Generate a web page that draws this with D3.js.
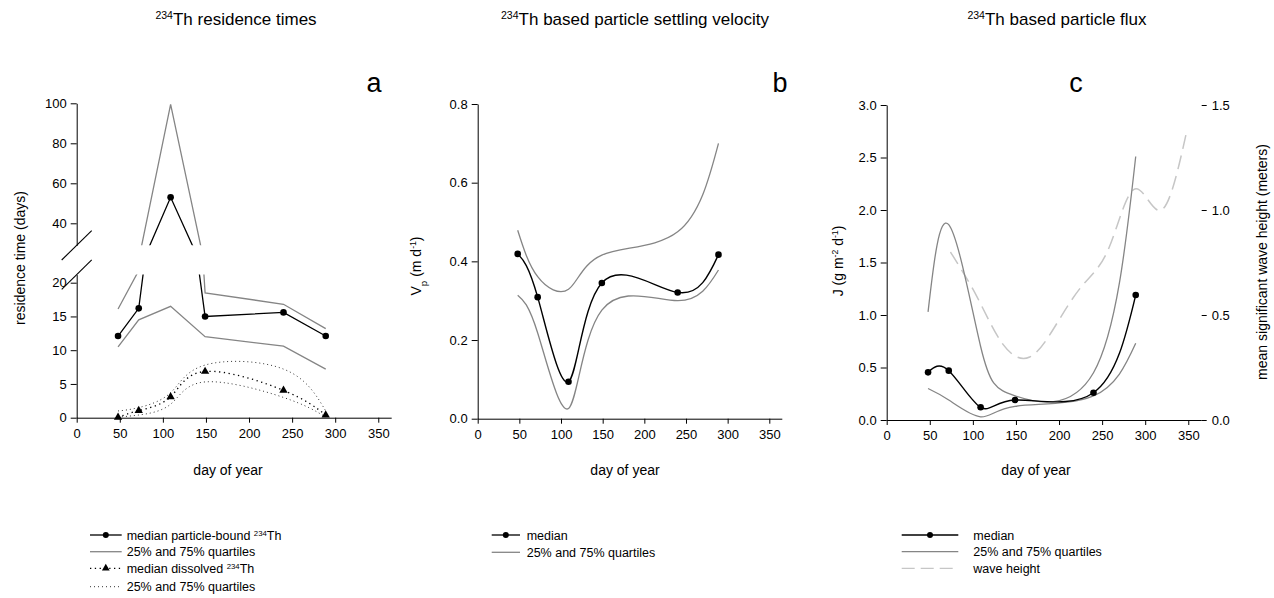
<!DOCTYPE html>
<html><head><meta charset="utf-8">
<script src="https://cdn.jsdelivr.net/npm/d3@7"></script>
<style>
body{margin:0;background:#fff;}
text{font-family:"Liberation Sans",Arial,Helvetica,sans-serif;fill:#000;}
</style></head>
<body>
<script>
// ---------- DATA ----------
const sampleDays = [48, 72, 109, 149, 240, 289];
// panel a: residence times (days)
const resParticleMedian = [12.1, 16.2, 53.0, 15.0, 15.6, 12.1];
const resParticleQ25 = [10.5, 14.5, 16.5, 12.0, 10.6, 7.2];
const resParticleQ75 = [16.1, 21.8, 99.5, 18.5, 16.8, 13.2];
const resDissolvedMedian = [0.05, 1.05, 3.1, 6.85, 4.05, 0.4];
const resDissolvedQ25 = [0.1, 0.4, 2.0, 5.3, 3.0, 0.1];
const resDissolvedQ75 = [1.0, 1.5, 3.7, 7.8, 7.2, 1.0];
// panel b: settling velocity (m/d)
const vpMedian = [0.419, 0.309, 0.094, 0.345, 0.321, 0.417];
const vpQ25 = [0.314, 0.218, 0.026, 0.276, 0.300, 0.378];
const vpQ75 = [0.479, 0.361, 0.329, 0.416, 0.475, 0.700];
// panel c: flux (g m-2 d-1)
const fluxMedian = [0.454, 0.470, 0.121, 0.190, 0.260, 1.190];
const fluxQ25 = [0.30, 0.19, 0.03, 0.13, 0.23, 0.73];
const fluxQ75 = [1.03, 1.86, 0.70, 0.23, 0.45, 2.51];
// wave height (m), monthly mid-points
const waveDays = [74, 105, 135, 166, 196, 227, 258, 288, 319, 349];
const waveHeight = [0.80, 0.585, 0.36, 0.30, 0.45, 0.64, 0.82, 1.10, 1.00, 1.39];
// ticks
const xTicks = [0, 50, 100, 150, 200, 250, 300, 350];
const aLowTicks = [0, 5, 10, 15, 20];
const aUpTicks = [40, 60, 80, 100];
const bTicks = [0.0, 0.2, 0.4, 0.6, 0.8];
const cTicks = [0.0, 0.5, 1.0, 1.5, 2.0, 2.5, 3.0];
const cRightTicks = [0.0, 0.5, 1.0, 1.5];

// ---------- SETUP ----------
const svg = d3.select("body").append("svg").attr("width", 1274).attr("height", 598);
const GRAY = "#858585", LIGHT = "#c6c6c6";
const pts = vals => sampleDays.map((d, i) => [d, vals[i]]);

function styleAxis(g) {
  g.selectAll("path.domain").attr("stroke", "#000").attr("stroke-width", 1);
  g.selectAll(".tick line").attr("stroke", "#000");
  g.selectAll(".tick text").attr("font-size", 13).attr("font-family", '"Liberation Sans",Arial,sans-serif');
}
function xAxis(x, y0) {
  const g = svg.append("g").attr("transform", `translate(0,${y0})`)
    .call(d3.axisBottom(x).tickValues(xTicks).tickSize(5).tickPadding(6).tickSizeOuter(0));
  styleAxis(g);
}
function supText(parent, x, y, parts, size, anchor) {
  const t = parent.append("text").attr("x", x).attr("y", y).attr("font-size", size).attr("text-anchor", anchor || "start");
  parts.forEach(p => {
    const s = t.append("tspan").text(p.t);
    if (p.sup) s.attr("font-size", size * 0.62).attr("baseline-shift", "super");
    if (p.sub) s.attr("font-size", size * 0.7).attr("baseline-shift", "sub");
  });
  return t;
}

// ---------- TITLES ----------
supText(svg, 236, 25, [{t: "234", sup: 1}, {t: "Th residence times"}], 17, "middle");
supText(svg, 635, 25, [{t: "234", sup: 1}, {t: "Th based particle settling velocity"}], 17, "middle");
supText(svg, 1057, 25, [{t: "234", sup: 1}, {t: "Th based particle flux"}], 17, "middle");
[["a", 374], ["b", 780], ["c", 1076]].forEach(([l, x]) =>
  svg.append("text").attr("x", x).attr("y", 92).attr("font-size", 27).attr("text-anchor", "middle").text(l));

// ---------- PANEL A ----------
const xA = d3.scaleLinear().domain([0, 365]).range([76.7, 391.2]);
const yLow = d3.scaleLinear().domain([0, 21.2]).range([417.7, 417.7 - 21.2 * 6.75]);
const yUp = d3.scaleLinear().domain([29, 100]).range([103.3 + 71 * 2, 103.3]);
const defs = svg.append("defs");
defs.append("clipPath").attr("id", "clipLow").append("rect")
  .attr("x", 70).attr("y", yLow(21.2)).attr("width", 340).attr("height", 160);
defs.append("clipPath").attr("id", "clipUp").append("rect")
  .attr("x", 70).attr("y", 90).attr("width", 340).attr("height", yUp(29) - 90);

xAxis(xA, 417.7);
const gLowAx = svg.append("g").attr("transform", `translate(${xA(0)},0)`)
  .call(d3.axisLeft(yLow).tickValues(aLowTicks).tickSize(6).tickPadding(4).tickSizeOuter(0));
styleAxis(gLowAx);
const gUpAx = svg.append("g").attr("transform", `translate(${xA(0)},0)`)
  .call(d3.axisLeft(yUp).tickValues(aUpTicks).tickSize(6).tickPadding(4).tickSizeOuter(0));
styleAxis(gUpAx);
// break marks
[yUp(29), yLow(21.2)].forEach(yb => {
  svg.append("line").attr("x1", xA(0) - 15).attr("y1", yb + 14.7).attr("x2", xA(0) + 15).attr("y2", yb - 14.7)
    .attr("stroke", "#000").attr("stroke-width", 1.1);
});

const secs = [{y: yLow, clip: "url(#clipLow)", inSec: v => v <= 21.2},
              {y: yUp, clip: "url(#clipUp)", inSec: v => v > 21.2}];
secs.forEach(s => {
  const g = svg.append("g").attr("clip-path", s.clip);
  const lin = d3.line().x(d => xA(d[0])).y(d => s.y(d[1]));
  [resParticleQ25, resParticleQ75].forEach(v =>
    g.append("path").attr("d", lin(pts(v))).attr("fill", "none").attr("stroke", GRAY).attr("stroke-width", 1.3));
  g.append("path").attr("d", lin(pts(resParticleMedian))).attr("fill", "none").attr("stroke", "#000").attr("stroke-width", 1.3);
  g.selectAll("circle").data(pts(resParticleMedian).filter(d => s.inSec(d[1]))).join("circle")
    .attr("cx", d => xA(d[0])).attr("cy", d => s.y(d[1])).attr("r", 3.3).attr("fill", "#000");
});
// dissolved
const natA = d3.line().x(d => xA(d[0])).y(d => yLow(d[1])).curve(d3.curveNatural);
[resDissolvedQ25, resDissolvedQ75].forEach(v =>
  svg.append("path").attr("d", natA(pts(v))).attr("fill", "none").attr("stroke", "#333")
    .attr("stroke-width", 1).attr("stroke-dasharray", "1,3"));
svg.append("path").attr("d", natA(pts(resDissolvedMedian))).attr("fill", "none").attr("stroke", "#000")
  .attr("stroke-width", 1.3).attr("stroke-dasharray", "1.3,3.5");
svg.append("g").selectAll("path").data(pts(resDissolvedMedian)).join("path")
  .attr("d", d3.symbol(d3.symbolTriangle, 30))
  .attr("transform", d => `translate(${xA(d[0])},${yLow(d[1])})`).attr("fill", "#000");

svg.append("text").attr("x", 228).attr("y", 475).attr("font-size", 14).attr("text-anchor", "middle").text("day of year");
svg.append("text").attr("transform", "translate(25,258) rotate(-90)").attr("font-size", 14)
  .attr("text-anchor", "middle").text("residence time (days)");

// ---------- PANEL B ----------
const xB = d3.scaleLinear().domain([0, 365]).range([477.7, 781.8]);
const yB = d3.scaleLinear().domain([0, 0.8]).range([418.7, 104]);
xAxis(xB, 418.7);
const gBy = svg.append("g").attr("transform", `translate(${xB(0)},0)`)
  .call(d3.axisLeft(yB).tickValues(bTicks).tickFormat(d3.format(".1f")).tickSize(6).tickPadding(4).tickSizeOuter(0));
styleAxis(gBy);
const natB = d3.line().x(d => xB(d[0])).y(d => yB(d[1])).curve(d3.curveNatural);
[vpQ25, vpQ75].forEach(v =>
  svg.append("path").attr("d", natB(pts(v))).attr("fill", "none").attr("stroke", GRAY).attr("stroke-width", 1.3));
svg.append("path").attr("d", natB(pts(vpMedian))).attr("fill", "none").attr("stroke", "#000").attr("stroke-width", 1.4);
svg.append("g").selectAll("circle").data(pts(vpMedian)).join("circle")
  .attr("cx", d => xB(d[0])).attr("cy", d => yB(d[1])).attr("r", 3.3).attr("fill", "#000");
svg.append("text").attr("x", 625).attr("y", 475).attr("font-size", 14).attr("text-anchor", "middle").text("day of year");
supText(svg.append("g").attr("transform", "translate(421,266) rotate(-90)"), 0, 0,
  [{t: "V"}, {t: "p", sub: 1}, {t: " (m d"}, {t: "-1", sup: 1}, {t: ")"}], 14, "middle");

// ---------- PANEL C ----------
const xC = d3.scaleLinear().domain([0, 365]).range([886.7, 1201.2]);
const yC = d3.scaleLinear().domain([0, 3]).range([420, 105]);
const yW = d3.scaleLinear().domain([0, 1.5]).range([420, 105]);
xAxis(xC, 420);
const gCy = svg.append("g").attr("transform", `translate(${xC(0)},0)`)
  .call(d3.axisLeft(yC).tickValues(cTicks).tickFormat(d3.format(".1f")).tickSize(6).tickPadding(4).tickSizeOuter(0));
styleAxis(gCy);
const gCr = svg.append("g").attr("transform", `translate(${xC(365) + 0.5},0)`)
  .call(d3.axisRight(yW).tickValues(cRightTicks).tickFormat(d3.format(".1f")).tickSize(5).tickPadding(5).tickSizeOuter(0));
styleAxis(gCr);
gCr.select("path.domain").remove();
const natC = d3.line().x(d => xC(d[0])).y(d => yC(d[1])).curve(d3.curveNatural);
const natW = d3.line().x(d => xC(d[0])).y(d => yW(d[1])).curve(d3.curveNatural);
svg.append("path").attr("d", natW(waveDays.map((d, i) => [d, waveHeight[i]]))).attr("fill", "none")
  .attr("stroke", LIGHT).attr("stroke-width", 1.5).attr("stroke-dasharray", "14,7");
[fluxQ25, fluxQ75].forEach(v =>
  svg.append("path").attr("d", natC(pts(v))).attr("fill", "none").attr("stroke", GRAY).attr("stroke-width", 1.3));
svg.append("path").attr("d", natC(pts(fluxMedian))).attr("fill", "none").attr("stroke", "#000").attr("stroke-width", 1.4);
svg.append("g").selectAll("circle").data(pts(fluxMedian)).join("circle")
  .attr("cx", d => xC(d[0])).attr("cy", d => yC(d[1])).attr("r", 3.3).attr("fill", "#000");
svg.append("text").attr("x", 1036).attr("y", 475).attr("font-size", 14).attr("text-anchor", "middle").text("day of year");
supText(svg.append("g").attr("transform", "translate(843,261) rotate(-90)"), 0, 0,
  [{t: "J (g m"}, {t: "-2", sup: 1}, {t: " d"}, {t: "-1", sup: 1}, {t: ")"}], 14, "middle");
svg.append("text").attr("transform", "translate(1267,262) rotate(-90)").attr("font-size", 14)
  .attr("text-anchor", "middle").text("mean significant wave height (meters)");

// ---------- LEGENDS ----------
function legLine(x1, x2, y, stroke, w, dash) {
  const l = svg.append("line").attr("x1", x1).attr("x2", x2).attr("y1", y).attr("y2", y)
    .attr("stroke", stroke).attr("stroke-width", w);
  if (dash) l.attr("stroke-dasharray", dash);
}
// a
const la = [535, 551.7, 568.3, 586.7];
legLine(90, 121.7, la[0], "#000", 1.3); svg.append("circle").attr("cx", 105.8).attr("cy", la[0]).attr("r", 3).attr("fill", "#000");
legLine(90, 121.7, la[1], GRAY, 1.3);
legLine(90, 121.7, la[2], "#000", 1.3, "1.3,3.5");
svg.append("path").attr("d", d3.symbol(d3.symbolTriangle, 26)).attr("transform", `translate(105.8,${la[2]})`).attr("fill", "#000");
legLine(90, 121.7, la[3], "#333", 1, "1,3");
supText(svg, 126.7, la[0] + 4.5, [{t: "median particle-bound "}, {t: "234", sup: 1}, {t: "Th"}], 12.5);
supText(svg, 126.7, la[1] + 4.5, [{t: "25% and 75% quartiles"}], 12.5);
supText(svg, 126.7, la[2] + 4.5, [{t: "median dissolved "}, {t: "234", sup: 1}, {t: "Th"}], 12.5);
supText(svg, 126.7, la[3] + 4.5, [{t: "25% and 75% quartiles"}], 12.5);
// b
legLine(491.7, 520, 535, "#000", 1.3); svg.append("circle").attr("cx", 505.8).attr("cy", 535).attr("r", 3).attr("fill", "#000");
legLine(491.7, 520, 552.3, GRAY, 1.3);
supText(svg, 526.7, 539.5, [{t: "median"}], 12.5);
supText(svg, 526.7, 556.8, [{t: "25% and 75% quartiles"}], 12.5);
// c
legLine(901.7, 958.3, 535, "#000", 1.3); svg.append("circle").attr("cx", 930).attr("cy", 535).attr("r", 3).attr("fill", "#000");
legLine(901.7, 958.3, 551.7, GRAY, 1.3);
legLine(901.7, 958.3, 568.3, LIGHT, 1.3, "13,6");
supText(svg, 973.3, 539.5, [{t: "median"}], 12.5);
supText(svg, 973.3, 556.2, [{t: "25% and 75% quartiles"}], 12.5);
supText(svg, 973.3, 572.8, [{t: "wave height"}], 12.5);
</script>
</body></html>
